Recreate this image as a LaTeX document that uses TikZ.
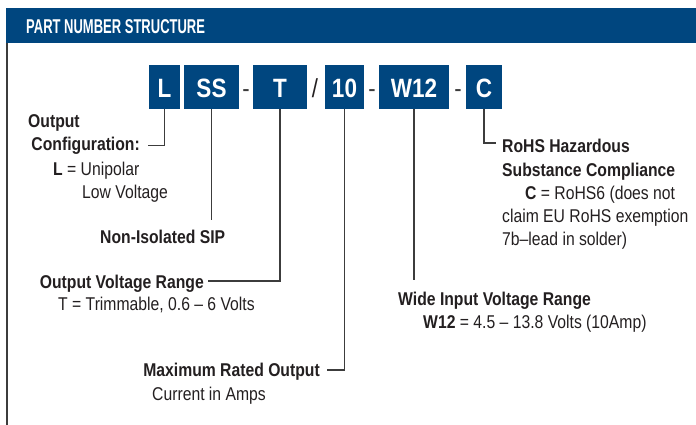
\documentclass[tikz,border=0pt]{standalone}
\usepackage{fontspec}
\setmainfont{Liberation Sans}[FakeStretch=0.85]
\newfontfamily\hdrfont{Liberation Sans}[FakeStretch=0.65]
\definecolor{pnblue}{RGB}{0,70,127}
\definecolor{ink}{RGB}{35,31,32}
\definecolor{rulec}{RGB}{60,60,60}
\tikzset{
  pbox/.style={fill=pnblue, text=white, font=\bfseries\fontsize{26.5}{26.5}\selectfont,
    minimum height=44, inner sep=0, text height=22, text depth=0, anchor=center},
  sep/.style={anchor=base, inner sep=0, text=rulec, font=\fontsize{26}{26}\selectfont},
  lbl/.style={anchor=base west, inner sep=0, text=ink, font=\fontsize{18.5}{24}\selectfont},
  blbl/.style={lbl, font=\bfseries\fontsize{18.5}{24}\selectfont},
  conn/.style={draw=rulec, line width=1.3},
}
\begin{document}
\begin{tikzpicture}[x=1pt,y=-1pt]
\useasboundingbox (0,0) rectangle (696,425);
% header
\fill[pnblue] (6,8) rectangle (696,43);
\node[anchor=base west, inner sep=0, text=white, font=\hdrfont\bfseries\fontsize{20}{20}\selectfont] (title) at (26,34) {PART NUMBER STRUCTURE};
\draw[conn] (7,43) -- (7,425);
% part number boxes
\node[pbox, minimum width=31] (bL) at (164.5,87) {L};
\node[pbox, minimum width=55] (bSS) at (211.5,87) {SS};
\node[sep] (d1) at (246,98) {-};
\node[pbox, minimum width=54] (bT) at (280,87) {T};
\node[sep, text=ink] (sl) at (315,98) {/};
\node[pbox, minimum width=39] (b10) at (344.5,87) {10};
\node[sep] (d2) at (372,98) {-};
\node[pbox, minimum width=70] (bW) at (414,87) {W12};
\node[sep] (d3) at (458,98) {-};
\node[pbox, minimum width=36] (bC) at (484,87) {C};
% labels
\node[blbl] (oc1) at (28,128) {Output};
\node[blbl, anchor=base east] (oc2) at (140,150.5) {Configuration:};
\node[lbl] (oc3) at (53,175.7) {\textbf{L} = Unipolar};
\node[lbl] (oc4) at (82,198.3) {Low Voltage};
\node[blbl] (nis) at (100,243) {Non-Isolated SIP};
\node[blbl, anchor=base east] (ovr1) at (204,288.3) {Output Voltage Range};
\node[lbl] (ovr2) at (58,310) {T = Trimmable, 0.6 -- 6 Volts};
\node[blbl, anchor=base east] (mro1) at (320,376) {Maximum Rated Output};
\node[lbl] (mro2) at (152,400) {Current in Amps};
\node[blbl] (rh1) at (502,153) {RoHS Hazardous};
\node[blbl] (rh2) at (502,176) {Substance Compliance};
\node[lbl] (rh3) at (525,199) {\textbf{C} = RoHS6 (does not};
\node[lbl] (rh4) at (502,222) {claim EU RoHS exemption};
\node[lbl] (rh5) at (502,245) {7b--lead in solder)};
\node[blbl] (wi1) at (398,305) {Wide Input Voltage Range};
\node[lbl] (wi2) at (423,328) {\textbf{W12} = 4.5 -- 13.8 Volts (10Amp)};
% connector end points
\coordinate (eL) at (148,145.5);
\coordinate (eSS) at (211.5,220);
\coordinate (eT) at (208,281);
\coordinate (e10) at (327,370);
\coordinate (eW) at (414,280);
\coordinate (eC) at (496,143);
\draw[conn] (bL.south) |- (eL);
\draw[conn] (bSS.south) -- (eSS);
\draw[conn] (bT.south) |- (eT);
\draw[conn] (b10.south) |- (e10);
\draw[conn] (bW.south) -- (eW);
\draw[conn] (bC.south) |- (eC);
\end{tikzpicture}
\end{document}
